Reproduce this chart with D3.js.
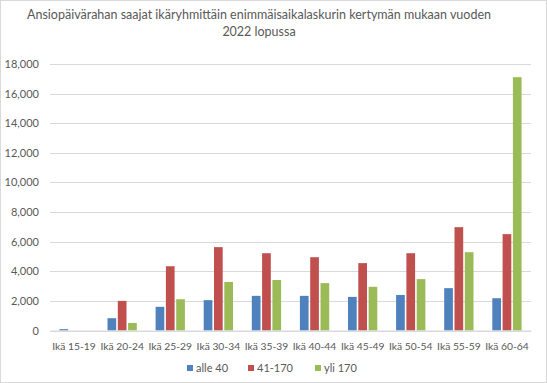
<!DOCTYPE html>
<html><head><meta charset="utf-8">
<script src="https://cdn.jsdelivr.net/npm/d3@7"></script>
<style>body{margin:0;background:#fff}svg{display:block}text{font-family:Lato,"Open Sans",sans-serif;fill:#595959}</style>
</head><body>
<script>
const categories = ["Ikä 15-19","Ikä 20-24","Ikä 25-29","Ikä 30-34","Ikä 35-39","Ikä 40-44","Ikä 45-49","Ikä 50-54","Ikä 55-59","Ikä 60-64"];
const seriesNames = ["alle 40","41-170","yli 170"];
const alle40 = [90, 830, 1600, 2050, 2340, 2340, 2270, 2400, 2860, 2180];
const s41_170 = [0, 2000, 4340, 5630, 5220, 4950, 4550, 5220, 6980, 6510];
const yli170 = [0, 510, 2110, 3280, 3410, 3200, 2950, 3470, 5290, 17110];
const yTicks = [0,2000,4000,6000,8000,10000,12000,14000,16000,18000];
const colors = ["#4F81BD","#C0504D","#9BBB59"];
const titleLines = ["Ansiopäivärahan  saajat ikäryhmittäin enimmäisaikalaskurin kertymän mukaan vuoden","2022 lopussa"];

const W=547,H=383;
const svg=d3.select("body").append("svg").attr("width",W).attr("height",H);
svg.append("rect").attr("x",0.5).attr("y",0.5).attr("width",W-1).attr("height",H-1).attr("fill","#fff").attr("stroke","#D9D9D9");

const x=d3.scaleBand().domain(categories).range([50,531]);
const y=d3.scaleLinear().domain([0,18000]).range([330.5,64]);

svg.append("g").selectAll("line").data(yTicks).join("line")
  .attr("x1",50).attr("x2",531).attr("y1",d=>Math.round(y(d))+0.5).attr("y2",d=>Math.round(y(d))+0.5)
  .attr("stroke","#D9D9D9").attr("stroke-width",1);

const yAxis=svg.append("g").attr("transform","translate(50,0)")
  .call(d3.axisLeft(y).tickValues(yTicks).tickFormat(d3.format(",")).tickSize(0).tickPadding(11));
yAxis.select(".domain").remove();
yAxis.selectAll("text").style("font-size","11px").style("fill","#595959").style("font-family","Lato,sans-serif");

const data=[alle40,s41_170,yli170];
const bw=8.7, step=10.3;
data.forEach((vals,si)=>{
  svg.append("g").selectAll("rect").data(vals).join("rect")
    .attr("x",(d,i)=>x(categories[i])+x.bandwidth()/2+(si-1)*step-bw/2)
    .attr("width",bw)
    .attr("y",d=>y(d)).attr("height",d=>y(0)-y(d))
    .attr("fill",colors[si]);
});

const xAxis=svg.append("g").attr("transform","translate(0,330.5)")
  .call(d3.axisBottom(x).tickSize(0).tickPadding(12));
xAxis.select(".domain").attr("stroke","#D9D9D9");
xAxis.selectAll("text").style("font-size","10.3px").style("fill","#595959").style("font-family","Lato,sans-serif");

svg.append("g").selectAll("text").data(titleLines).join("text")
  .attr("x",259).attr("y",(d,i)=>19+i*17).attr("text-anchor","middle")
  .style("font-size","12.5px").text(d=>d);

const legX=[187,248,315];
const leg=svg.append("g").selectAll("g").data(seriesNames).join("g")
  .attr("transform",(d,i)=>`translate(${legX[i]},365)`);
leg.append("rect").attr("width",6).attr("height",6).attr("y",0).attr("fill",(d,i)=>colors[i]);
leg.append("text").attr("x",9).attr("y",7).style("font-size","11px").text(d=>d);
</script>
</body></html>
